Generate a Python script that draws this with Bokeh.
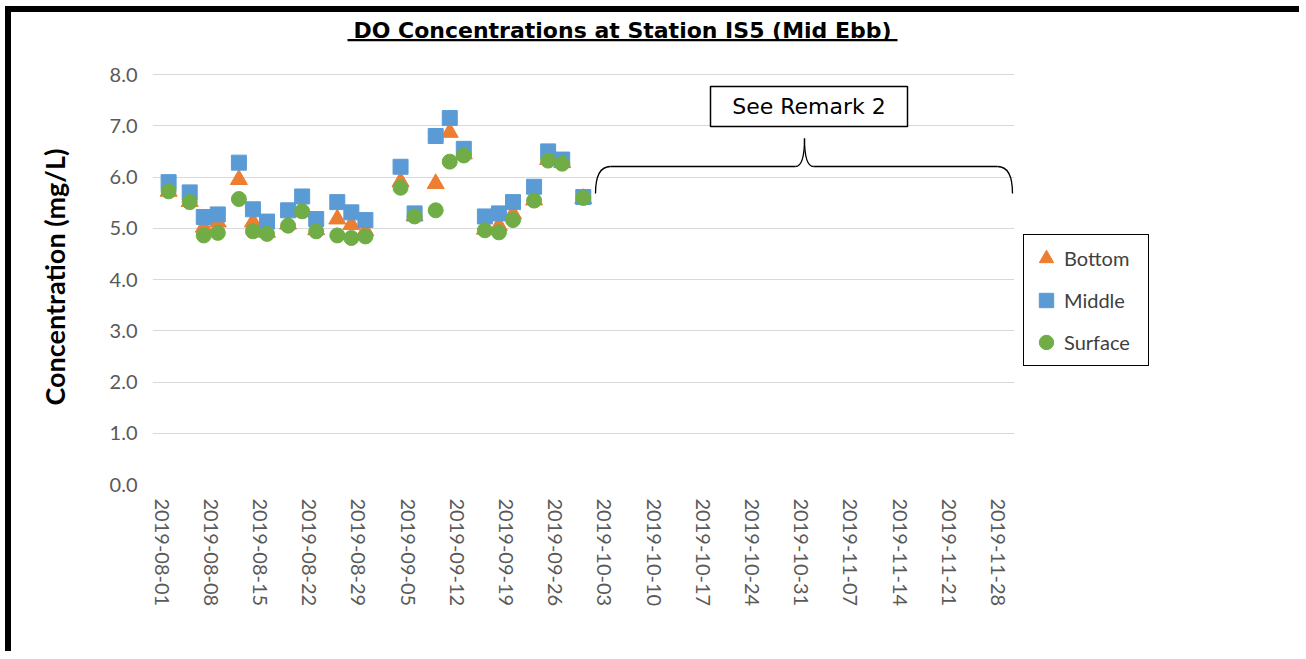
import math
import pandas as pd
from bokeh.plotting import figure
from bokeh.models import (FixedTicker, DatetimeTickFormatter, PrintfTickFormatter, Range1d,
                          Legend, LegendItem, Label, BoxAnnotation, ColumnDataSource, Title)
from bokeh.embed import file_html
from bokeh.resources import INLINE

# ---------------- data ----------------
dates = ["2019-08-02", "2019-08-05", "2019-08-07", "2019-08-09", "2019-08-12",
         "2019-08-14", "2019-08-16", "2019-08-19", "2019-08-21", "2019-08-23",
         "2019-08-26", "2019-08-28", "2019-08-30", "2019-09-04", "2019-09-06",
         "2019-09-09", "2019-09-11", "2019-09-13", "2019-09-16", "2019-09-18",
         "2019-09-20", "2019-09-23", "2019-09-25", "2019-09-27", "2019-09-30"]
bottom = [5.72, 5.52, 5.02, 5.12, 5.95, 5.12, 4.92, 5.08, 5.32, 4.97,
          5.18, 5.07, 4.95, 5.91, 5.24, 5.87, 6.87, 6.45, 4.98, 5.05,
          5.28, 5.55, 6.34, 6.28, 5.58]
middle = [5.90, 5.70, 5.22, 5.27, 6.28, 5.37, 5.13, 5.35, 5.62, 5.18,
          5.51, 5.31, 5.16, 6.20, 5.29, 6.80, 7.15, 6.55, 5.23, 5.29,
          5.51, 5.81, 6.50, 6.34, 5.61]
surface = [5.72, 5.51, 4.86, 4.91, 5.57, 4.94, 4.89, 5.05, 5.33, 4.94,
           4.86, 4.81, 4.84, 5.79, 5.23, 5.35, 6.30, 6.42, 4.96, 4.92,
           5.16, 5.54, 6.32, 6.26, 5.59]
series_names = ["Bottom", "Middle", "Surface"]
tick_dates = ["2019-08-01", "2019-08-08", "2019-08-15", "2019-08-22", "2019-08-29",
              "2019-09-05", "2019-09-12", "2019-09-19", "2019-09-26", "2019-10-03",
              "2019-10-10", "2019-10-17", "2019-10-24", "2019-10-31", "2019-11-07",
              "2019-11-14", "2019-11-21", "2019-11-28"]
y_ticks = [0, 1, 2, 3, 4, 5, 6, 7, 8]
title_text = "DO Concentrations at Station IS5 (Mid Ebb)"
y_label = "Concentration (mg/L)"
remark_text = "See Remark 2"

# ---------------- layout ----------------
W, H = 1294, 645
OX, OY = 11, 12          # window position of the canvas origin
def ms(s):
    return pd.Timestamp(s).value / 1e6

d0 = ms("2019-07-30 17:00")
d1 = ms("2019-11-30 05:00")
# chart box in window pixels: dates d0..d1 span FL..FR, values 0..8 span FB..FT
FL, FR, FT, FB = 152, 1013, 74, 484
def X(px):
    return d0 + (px - FL) * (d1 - d0) / (FR - FL)
def Y(py):
    return 8.0 * (FB - py) / (FB - FT)

p = figure(width=W, height=H, x_axis_type="datetime",
           x_range=Range1d(d0, X(OX + W)), y_range=Range1d(0, Y(OY)),
           output_backend="svg", toolbar_location=None,
           min_border_left=FL - OX, min_border_right=0,
           min_border_top=0, min_border_bottom=H - (FB - OY))
p.styles = {"margin-left": "5px", "margin-top": "6px",
            "border-top": "6px solid black", "border-left": "6px solid black"}
p.outline_line_color = None
p.background_fill_color = "white"
p.border_fill_color = "white"
p.xgrid.visible = False
p.ygrid.grid_line_color = "#d9d9d9"
p.ygrid.grid_line_width = 1

for ax in (p.xaxis[0], p.yaxis[0]):
    ax.axis_line_color = None
    ax.major_tick_line_color = None
    ax.minor_tick_line_color = None
    ax.major_tick_out = 0
    ax.major_tick_in = 0
    ax.minor_tick_out = 0
    ax.major_label_text_font = "Lato"
    ax.major_label_text_font_size = "20px"
    ax.major_label_text_color = "#595959"

fmt = "%Y-%m-%d"
p.xaxis.ticker = FixedTicker(ticks=[ms(d) for d in tick_dates])
p.xaxis.formatter = DatetimeTickFormatter(days=fmt, months=fmt, years=fmt, hours=fmt,
                                          hourmin=fmt, minutes=fmt, minsec=fmt,
                                          seconds=fmt, milliseconds=fmt, microseconds=fmt)
p.xaxis.major_label_orientation = -math.pi / 2
p.xaxis.major_label_standoff = 14

p.yaxis.ticker = FixedTicker(ticks=y_ticks)
p.yaxis.formatter = PrintfTickFormatter(format="%.1f")
p.yaxis.major_label_standoff = 15
# blank axis label used only as a spacer between tick labels and the axis title
p.yaxis.axis_label = " "
p.yaxis.axis_label_text_font_size = "10px"
p.yaxis.axis_label_standoff = 22

p.add_layout(Title(text=y_label, align="left", offset=FB - 405, vertical_align="bottom",
                   standoff=0, text_font="Lato", text_font_style="bold",
                   text_font_size="27px", text_color="black"), "left")

# hide the value grid beyond the chart box (legend area)
p.add_layout(BoxAnnotation(left=X(FR + 0.5), fill_color="white", fill_alpha=1,
                           line_color=None))

src = ColumnDataSource(dict(date=[ms(d) for d in dates], bottom=bottom,
                            middle=middle, surface=surface))
rb = p.scatter("date", "bottom", source=src, marker="triangle", size=17,
               fill_color="#ED7D31", line_color="#ED7D31")
rm = p.scatter("date", "middle", source=src, marker="square", size=15,
               fill_color="#5B9BD5", line_color="#5B9BD5")
rs = p.scatter("date", "surface", source=src, marker="circle", size=15,
               fill_color="#70AD47", line_color="#70AD47")

# title with underline (inside the plot box, above the value range)
p.add_layout(Label(x=X(622), y=Y(30), text=title_text, text_font="DejaVu Sans",
                   text_font_style="bold", text_font_size="22px", text_color="black",
                   text_align="center", text_baseline="alphabetic"))
p.add_layout(BoxAnnotation(left=X(347), right=X(897), top=Y(38.5), bottom=Y(40.7),
                           fill_color="black", fill_alpha=1, line_color=None))

# remark box + brace
p.add_layout(BoxAnnotation(left=X(710), right=X(907), top=Y(86), bottom=Y(126),
                           fill_color="white", fill_alpha=1, line_color="black",
                           line_alpha=1, line_width=1.5))
p.add_layout(Label(x=X(808.5), y=Y(106), text=remark_text, text_font="DejaVu Sans",
                   text_font_size="22px", text_color="black", text_align="center",
                   text_baseline="middle"))

bx0 = [X(595), X(795), X(804), X(997)]
by0 = [Y(193), Y(166), Y(138), Y(166)]
bx1 = [X(610), X(804), X(813), X(1012)]
by1 = [Y(166), Y(138), Y(166), Y(193)]
bcx = [X(595), X(804), X(804), X(1012)]
bcy = [Y(166), Y(166), Y(166), Y(166)]
p.quadratic(x0=bx0, y0=by0, x1=bx1, y1=by1, cx=bcx, cy=bcy,
            line_color="black", line_width=1.3)
p.segment(x0=[X(610), X(813)], y0=[Y(166), Y(166)], x1=[X(795), X(997)],
          y1=[Y(166), Y(166)], line_color="black", line_width=1.3)

legend = Legend(items=[LegendItem(label=n, renderers=[r])
                       for n, r in zip(series_names, [rb, rm, rs])],
                location=(1023 - FL, FB - 366), orientation="vertical",
                border_line_color="black", border_line_alpha=1, border_line_width=1.5,
                background_fill_color="white", background_fill_alpha=1,
                padding=4, spacing=4, margin=0,
                glyph_width=36, glyph_height=38, label_standoff=0, label_width=80,
                label_text_font="Lato", label_text_font_size="20px",
                label_text_color="#404040")
p.add_layout(legend)

open("out.html", "w").write(file_html(p, INLINE))
